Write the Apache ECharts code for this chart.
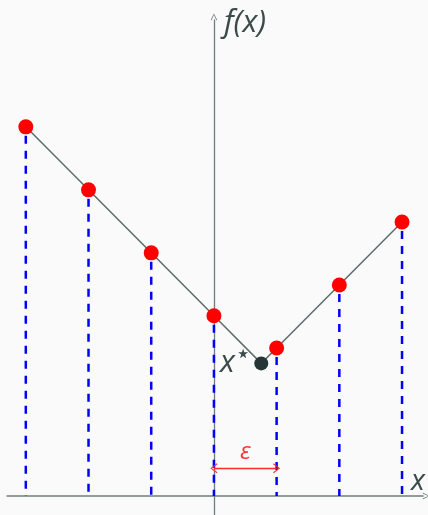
<!DOCTYPE html>
<html>
<head>
<meta charset="utf-8">
<script src="https://cdn.jsdelivr.net/npm/echarts@6/dist/echarts.min.js"></script>
<style>
  html, body { margin: 0; padding: 0; background: #fafafa; }
  #chart { width: 428px; height: 515px; }
</style>
</head>
<body>
<div id="chart"></div>
<script>
// Sample points of f(x) = |x - x*| + f*
const sampleX = [-3, -2, -1, 0, 1, 2, 3];
const sampleF = [5.86, 4.86, 3.86, 2.86, 2.35, 3.35, 4.35];
// Minimiser
const xStar = 0.755;
const fStar = 2.105;
// Bracket width shown between x = 0 and x = 1
const epsFrom = 0;
const epsTo = 1;
const epsLevel = 0.44;

const axisColor = '#6f7f7f';
const textColor = '#3b4b4b';
const chevron = 'path://M0,10 L5,0 L10,10 L9,11 L5,2.4 L1,11 Z';

const points = sampleX.map((x, i) => [x, sampleF[i]]);
const curve = points.filter(p => p[0] < xStar)
  .concat([[xStar, fStar]])
  .concat(points.filter(p => p[0] > xStar));

const chart = echarts.init(document.getElementById('chart'));
chart.setOption({
  backgroundColor: '#fafafa',
  animation: false,
  grid: { left: 7, right: 3, top: 20, bottom: 0 },
  xAxis: {
    type: 'value',
    min: -3.30, max: 3.335,
    splitLine: { show: false },
    axisTick: { show: false },
    axisLabel: { show: false },
    axisLine: {
      onZero: true,
      symbol: ['none', chevron],
      symbolSize: [10, 7],
      symbolOffset: [0, 3],
      lineStyle: { color: axisColor, width: 1.5 }
    },
    name: 'x',
    nameLocation: 'end',
    nameGap: -5,
    nameTextStyle: {
      fontFamily: 'Open Sans', fontStyle: 'italic', fontSize: 29,
      color: textColor, align: 'center', verticalAlign: 'bottom',
      padding: [0, 0, 0, 0]
    }
  },
  yAxis: {
    type: 'value',
    min: -0.302, max: 7.556,
    splitLine: { show: false },
    axisTick: { show: false },
    axisLabel: { show: false },
    axisLine: {
      onZero: true,
      symbol: ['none', chevron],
      symbolSize: [10, 7],
      symbolOffset: [0, 3],
      lineStyle: { color: axisColor, width: 1.3 }
    },
    name: 'f(x)',
    nameLocation: 'end',
    nameGap: -3,
    nameTextStyle: {
      fontFamily: 'Open Sans', fontStyle: 'italic', fontSize: 31,
      color: textColor, align: 'left', verticalAlign: 'middle',
      padding: [0, 0, 0, 10]
    }
  },
  series: [
    {
      // vertical dashed drop lines from each sample to the x axis
      type: 'custom',
      z: 1,
      data: points,
      renderItem: function (params, api) {
        const top = api.coord([api.value(0), api.value(1)]);
        const bottom = api.coord([api.value(0), 0]);
        return {
          type: 'line',
          shape: { x1: top[0], y1: top[1] + 9, x2: bottom[0], y2: bottom[1] },
          style: { stroke: '#0000ff', lineWidth: 2.5, lineDash: [8, 7] }
        };
      }
    },
    {
      type: 'line',
      z: 2,
      data: curve,
      symbol: 'none',
      lineStyle: { color: '#5d6c6c', width: 1.5 },
      markLine: {
        silent: true,
        symbol: [chevron, chevron],
        symbolSize: [10, 7],
        lineStyle: { color: '#ff2a2a', width: 1.3, type: 'solid' },
        label: {
          show: true,
          position: 'middle',
          formatter: 'ε',
          fontFamily: 'Open Sans', fontStyle: 'italic', fontSize: 24,
          color: '#ff3333', distance: 4
        },
        data: [[{ coord: [epsFrom, epsLevel] }, { coord: [epsTo, epsLevel] }]]
      }
    },
    {
      type: 'scatter',
      z: 3,
      data: points,
      symbol: 'circle',
      symbolSize: 15,
      itemStyle: { color: '#ff0000', opacity: 1 }
    },
    {
      type: 'scatter',
      z: 3,
      data: [[xStar, fStar]],
      symbol: 'circle',
      symbolSize: 14,
      itemStyle: { color: '#263636', opacity: 1 },
      label: {
        show: true,
        position: 'left',
        distance: 3,
        formatter: '{a|x}{b|⋆}',
        rich: {
          a: { fontFamily: 'Open Sans', fontStyle: 'italic', fontSize: 31, color: textColor },
          b: { fontFamily: 'DejaVu Sans', fontSize: 26, color: textColor, verticalAlign: 'top', padding: [0, 0, 16, 0] }
        }
      }
    }
  ]
});
</script>
</body>
</html>
